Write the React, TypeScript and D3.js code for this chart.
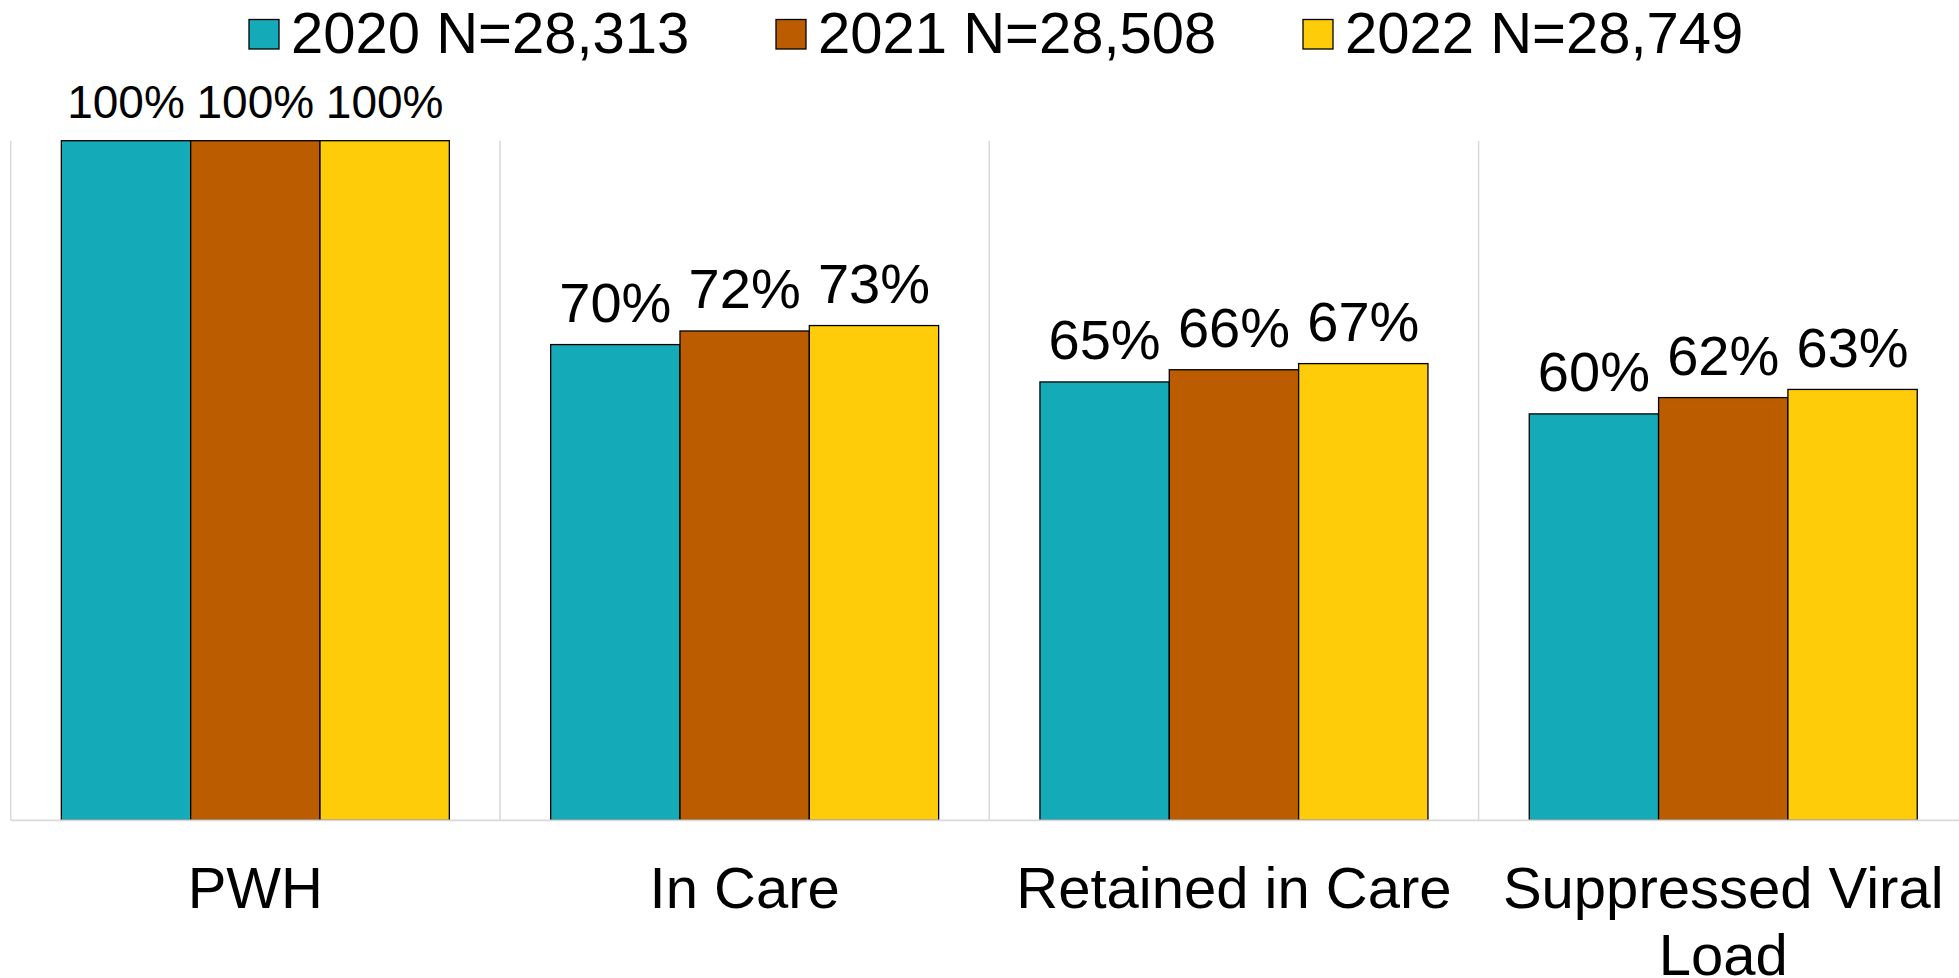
import React from "react";
import * as d3 from "d3";

const categories = ["PWH", "In Care", "Retained in Care", "Suppressed Viral Load"];
const seriesNames = ["2020 N=28,313", "2021 N=28,508", "2022 N=28,749"];
const values2020 = [100, 70.0, 64.5, 59.8];
const values2021 = [100, 72.0, 66.3, 62.2];
const values2022 = [100, 72.8, 67.2, 63.4];
const seriesValues = [values2020, values2021, values2022];
const colors = ["#15AAB8", "#BB5C00", "#FFCC09"];

const W = 1959;
const H = 978;
const FONT = "'Liberation Sans', Arial, Helvetica, sans-serif";

function measure(text: string, size: number): number {
  const c = document.createElement("canvas");
  const ctx = c.getContext("2d");
  if (!ctx) return text.length * size * 0.5;
  ctx.font = `${size}px 'Liberation Sans', Arial, sans-serif`;
  return ctx.measureText(text).width;
}

function wrap(text: string, size: number, maxW: number): string[] {
  const words = text.split(" ");
  const lines: string[] = [];
  let cur = "";
  for (const w of words) {
    const t = cur ? cur + " " + w : w;
    if (cur && measure(t, size) > maxW) {
      lines.push(cur);
      cur = w;
    } else cur = t;
  }
  if (cur) lines.push(cur);
  return lines;
}

export default function App() {
  const left = 10.7;
  const catW = 489.3;
  const x0 = d3
    .scaleBand<string>()
    .domain(categories)
    .range([left, left + catW * categories.length])
    .padding(0);
  const groupPad = 50.65;
  const x1 = d3
    .scaleBand<string>()
    .domain(seriesNames)
    .range([groupPad, x0.bandwidth() - groupPad])
    .padding(0);
  const y = d3.scaleLinear().domain([0, 100]).range([820.3, 140.7]);

  const legendX = [249, 776, 1303];

  return (
    <svg
      width={W}
      height={H}
      style={{ position: "absolute", left: 0, top: 0, background: "#fff" }}
      fontFamily={FONT}
    >
      <rect x={0} y={0} width={W} height={H} fill="#fff" />
      {/* legend */}
      {seriesNames.map((s, i) => (
        <g key={s}>
          <rect
            x={legendX[i]}
            y={19.5}
            width={30}
            height={29.5}
            fill={colors[i]}
            stroke="#000"
            strokeWidth={1.3}
          />
          <text x={legendX[i] + 42} y={52.7} fontSize={58} fill="#000">
            {s}
          </text>
        </g>
      ))}
      {/* vertical gridlines */}
      {categories.map((c) => (
        <line
          key={"g" + c}
          x1={x0(c)!}
          x2={x0(c)!}
          y1={y(100)}
          y2={y(0)}
          stroke="#d9d9d9"
          strokeWidth={1.5}
        />
      ))}
      <line
        x1={x0.range()[1]}
        x2={x0.range()[1]}
        y1={y(100)}
        y2={y(0)}
        stroke="#d9d9d9"
        strokeWidth={1.5}
      />
      {/* bars */}
      {categories.map((c, ci) =>
        seriesNames.map((s, si) => {
          const v = seriesValues[si][ci];
          const bx = x0(c)! + x1(s)!;
          return (
            <rect
              key={c + s}
              x={bx}
              y={y(v)}
              width={x1.bandwidth()}
              height={y(0) - y(v)}
              fill={colors[si]}
              stroke="#000"
              strokeWidth={1.3}
            />
          );
        })
      )}
      {/* baseline */}
      <line
        x1={left}
        x2={W}
        y1={y(0)}
        y2={y(0)}
        stroke="#d9d9d9"
        strokeWidth={1.8}
      />
      {/* data labels */}
      {categories.map((c, ci) =>
        seriesNames.map((s, si) => {
          const v = seriesValues[si][ci];
          const cx = x0(c)! + x1(s)! + x1.bandwidth() / 2;
          return (
            <text
              key={"l" + c + s}
              x={cx}
              y={y(v) - 22.5}
              textAnchor="middle"
              fontSize={v >= 100 ? 46 : 56}
              fill="#000"
            >
              {Math.round(v) + "%"}
            </text>
          );
        })
      )}
      {/* category labels */}
      {categories.map((c) => {
        const lines = wrap(c, 58, x0.bandwidth() - 20);
        const cx = x0(c)! + x0.bandwidth() / 2;
        return (
          <text key={"c" + c} x={cx} y={908.3} textAnchor="middle" fontSize={58} fill="#000">
            {lines.map((ln, i) => (
              <tspan key={i} x={cx} dy={i === 0 ? 0 : 67}>
                {ln}
              </tspan>
            ))}
          </text>
        );
      })}
    </svg>
  );
}
